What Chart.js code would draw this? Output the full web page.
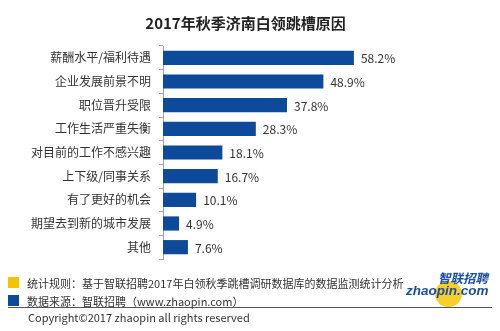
<!DOCTYPE html>
<html>
<head>
<meta charset="utf-8">
<script src="https://cdn.jsdelivr.net/npm/chart.js@4/dist/chart.umd.min.js"></script>
<style>
  html, body { margin: 0; padding: 0; background: #fff; }
  #wrap { position: relative; width: 500px; height: 331px; font-family: "Noto Sans CJK SC", "Noto Sans", sans-serif; }
  #myChart { position: absolute; left: 0; top: 0; }
  .sq { position: absolute; width: 11px; height: 11px; }
  .note { position: absolute; font-size: 11px; color: #333; white-space: nowrap; line-height: 14px; }
  #rule { position: absolute; left: 8px; top: 307px; width: 484px; height: 1px; background: #555; }
  #logo { position: absolute; left: 404px; top: 270px; width: 90px; height: 38px; }
  #logo .dot { position: absolute; left: 31px; top: 11px; width: 27px; height: 26px; border-radius: 50%; background: #f6cf2a; }
  #logo .cn { position: absolute; left: 34px; top: 1px; font-size: 12.5px; line-height: 14px; font-weight: bold; font-style: italic; color: #1a4ea0; }
  #logo .en { position: absolute; left: 2px; top: 14px; font-size: 13.5px; line-height: 14px; font-weight: bold; font-style: italic; color: #1a4ea0; font-family: "Liberation Sans", sans-serif; }
</style>
</head>
<body>
<div id="wrap">
  <canvas id="myChart" width="500" height="331"></canvas>
  <div class="sq" style="left:8px;top:277px;background:#f5c400;"></div>
  <div class="note" style="left:27px;top:276px;">统计规则：基于智联招聘2017年白领秋季跳槽调研数据库的数据监测统计分析</div>
  <div class="sq" style="left:8px;top:295px;background:#0d4a9a;"></div>
  <div class="note" style="left:27px;top:294px;">数据来源：智联招聘（www.zhaopin.com）</div>
  <div id="rule"></div>
  <div class="note" style="left:28px;top:310px;">Copyright©2017 zhaopin all rights reserved</div>
  <div id="logo"><div class="dot"></div><div class="cn">智联招聘</div><div class="en">zhaopin.com</div></div>
</div>
<script>
const categories = ["薪酬水平/福利待遇", "企业发展前景不明", "职位晋升受限", "工作生活严重失衡", "对目前的工作不感兴趣", "上下级/同事关系", "有了更好的机会", "期望去到新的城市发展", "其他"];
const shares = [58.2, 48.9, 37.8, 28.3, 18.1, 16.7, 10.1, 4.9, 7.6];
const chartTitle = "2017年秋季济南白领跳槽原因";

const barColor = "#0d4a9a";

const valueLabels = {
  id: "valueLabels",
  afterDatasetsDraw(chart) {
    const ctx = chart.ctx;
    const meta = chart.getDatasetMeta(0);
    ctx.save();
    ctx.font = "12px 'Noto Sans CJK SC', sans-serif";
    ctx.fillStyle = "#333";
    ctx.textAlign = "left";
    ctx.textBaseline = "middle";
    meta.data.forEach((bar, i) => {
      ctx.fillText(shares[i].toFixed(1) + "%", bar.x + 7, bar.y + 1);
    });
    ctx.restore();
  }
};

const myChartRef = document.getElementById("myChart").getContext("2d");
new Chart(myChartRef, {
  type: "bar",
  data: {
    labels: categories,
    datasets: [{
      data: shares,
      backgroundColor: barColor,
      borderWidth: 0,
      categoryPercentage: 1,
      barPercentage: 0.6
    }]
  },
  options: {
    indexAxis: "y",
    responsive: false,
    animation: false,
    layout: { padding: { left: 0, right: 9, top: 2, bottom: 72 } },
    plugins: {
      legend: { display: false },
      tooltip: { enabled: false },
      title: {
        display: true,
        text: chartTitle,
        color: "#222",
        font: { size: 15, weight: "bold", family: "'Noto Sans CJK SC', sans-serif" },
        padding: { top: 12, bottom: 14 }
      }
    },
    scales: {
      x: { display: false, min: 0, max: 100 },
      y: {
        afterFit(scale) { scale.width = 163; },
        border: { display: true, color: "#a6a6a6", width: 1 },
        grid: { drawOnChartArea: false, offset: true, tickLength: 4, color: "#a6a6a6" },
        ticks: {
          color: "#333",
          padding: 8,
          font: { size: 12, family: "'Noto Sans CJK SC', sans-serif" }
        }
      }
    }
  },
  plugins: [valueLabels]
});
</script>
</body>
</html>
